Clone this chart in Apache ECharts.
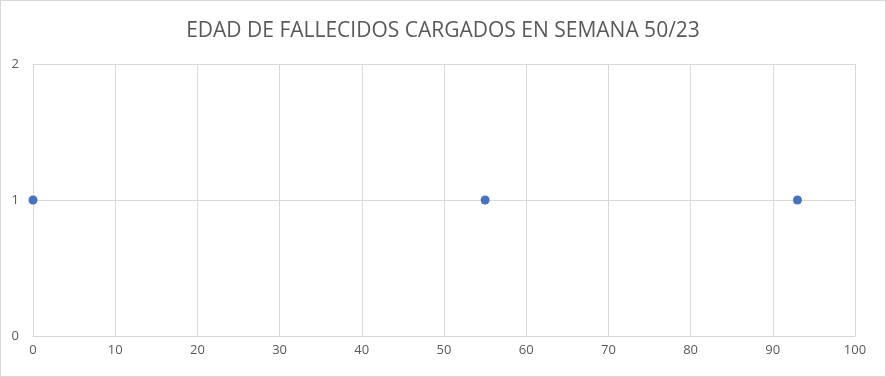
<!DOCTYPE html>
<html>
<head>
<meta charset="utf-8">
<script src="https://cdn.jsdelivr.net/npm/echarts@6/dist/echarts.min.js"></script>
<style>
    html, body { margin: 0; padding: 0; background: #fff; }
    .echarts-box {
        width: 886px;
        height: 377px;
        box-sizing: border-box;
        border: 1px solid #d9d9d9;
    }
</style>
</head>
<body>
<div class="echarts-box" id="echarts-main"></div>
<script>
    // datos
    const titulo = 'EDAD DE FALLECIDOS CARGADOS EN SEMANA 50/23'
    const edades = [0, 55, 93]
    const cantidades = [1, 1, 1]

    const puntos = edades.map((e, i) => [e, cantidades[i]])

    let chartDom = document.getElementById('echarts-main')
    let myChart = echarts.init(chartDom)

    const option = {
        animation: false,
        title: {
            text: titulo,
            left: 'center',
            top: 15,
            textStyle: {
                fontFamily: 'Open Sans',
                fontSize: 21,
                fontWeight: 'normal',
                color: '#595959'
            }
        },
        grid: {
            left: 32,
            right: 30,
            top: 63,
            bottom: 40
        },
        xAxis: {
            type: 'value',
            min: 0,
            max: 100,
            interval: 10,
            axisLine: { show: true, lineStyle: { color: '#d9d9d9' } },
            axisTick: { show: false },
            splitLine: { show: true, lineStyle: { color: '#d9d9d9' } },
            axisLabel: { color: '#595959', fontSize: 13, margin: 8, fontFamily: 'Open Sans' }
        },
        yAxis: {
            type: 'value',
            min: 0,
            max: 2,
            interval: 1,
            axisLine: { show: true, lineStyle: { color: '#d9d9d9' } },
            axisTick: { show: false },
            splitLine: { show: true, lineStyle: { color: '#d9d9d9' } },
            axisLabel: { color: '#595959', fontSize: 13, margin: 14, fontFamily: 'Open Sans' }
        },
        series: [
            {
                type: 'scatter',
                data: puntos,
                symbol: 'circle',
                symbolSize: 9,
                clip: false,
                itemStyle: { color: '#4472c4', opacity: 1 }
            }
        ]
    }

    myChart.setOption(option)
</script>
</body>
</html>
